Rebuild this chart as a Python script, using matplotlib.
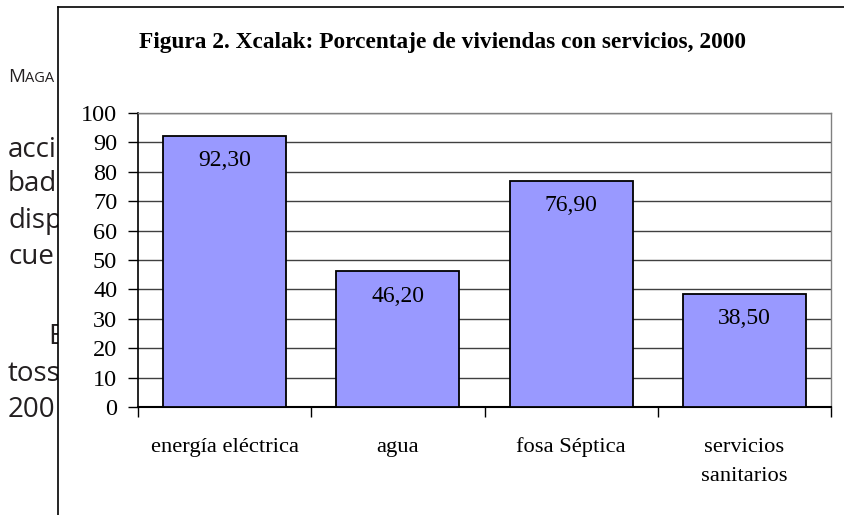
import matplotlib.pyplot as plt
from matplotlib.patches import Rectangle
from matplotlib.lines import Line2D

# Datos de la figura
categorias = ["energía eléctrica", "agua", "fosa Séptica", "servicios\nsanitarios"]
porcentajes = [92.30, 46.20, 76.90, 38.50]
etiquetas = ["92,30", "46,20", "76,90", "38,50"]
y_ticks = list(range(0, 101, 10))
titulo = "Figura 2. Xcalak: Porcentaje de viviendas con servicios, 2000"

# Texto de la página que queda detrás del recuadro del gráfico
texto_fondo = ["acci", "bad", "disp", "cue", "E", "toss", "200"]

W, H = 844, 515
fig = plt.figure(figsize=(W / 100, H / 100), dpi=100)

def fx(x):
    return x / W

def fy(y):
    return 1 - y / H

serif = "Liberation Serif"
sans = "Open Sans"
gris_texto = "#231f20"

# encabezado de página en versalitas
fig.text(fx(8), fy(82), "M", fontsize=13.5, family=sans, color=gris_texto, zorder=1)
fig.text(fx(25), fy(82), "AGA", fontsize=10.5, family=sans, color=gris_texto, zorder=1)

# líneas del texto del párrafo
baselines = [157, 191, 228, 264, 344, 381, 417]
x_inicio = [8, 8, 8, 8, 48, 8, 8]
for t, x, y in zip(texto_fondo, x_inicio, baselines):
    fig.text(fx(x), fy(y), t, fontsize=20, family=sans, color=gris_texto,
             va="baseline", zorder=1)

# recuadro blanco del gráfico
fig.add_artist(Rectangle((fx(58), 0), 1 - fx(58), fy(7), transform=fig.transFigure,
                         facecolor="white", edgecolor="none", zorder=2))
fig.add_artist(Line2D([fx(58), fx(58)], [0, fy(7)], color="black", lw=1.2, zorder=2.5))
fig.add_artist(Line2D([fx(58), 1], [fy(7), fy(7)], color="black", lw=1.2, zorder=2.5))

fig.text(fx(443), fy(48), titulo, fontsize=16.8, family=serif, fontweight="bold",
         ha="center", va="baseline", zorder=4)

ax = fig.add_axes([fx(138), fy(407), fx(831) - fx(138), fy(113) - fy(407)])
ax.set_zorder(3)
ax.set_facecolor("white")

x = list(range(len(categorias)))
ax.bar(x, porcentajes, width=0.71, color="#9999ff", edgecolor="black", linewidth=1.3, zorder=3)
for i, (v, lbl) in enumerate(zip(porcentajes, etiquetas)):
    ax.annotate(lbl, (i, v), xytext=(0, -18), textcoords="offset points",
                ha="center", va="center", fontsize=17, family=serif, zorder=4)

ax.set_xlim(-0.5, len(categorias) - 0.5)
ax.set_ylim(0, 100)
ax.set_yticks(y_ticks)
ax.yaxis.grid(True, color="#404040", linewidth=1)
ax.set_axisbelow(True)

ax.set_xticks(x)
ax.set_xticklabels(categorias, fontsize=16.2, family=serif, linespacing=1.75)
ax.set_xticks([i - 0.5 for i in range(len(categorias) + 1)], minor=True)
ax.tick_params(axis="x", which="major", length=0, pad=22)
ax.tick_params(axis="x", which="minor", length=7, width=1, direction="out")
ax.tick_params(axis="y", length=7, width=1, direction="out", pad=8, labelsize=17.5)
for lab in ax.get_yticklabels():
    lab.set_family(serif)

ax.spines["left"].set_color("black")
ax.spines["left"].set_linewidth(1.2)
ax.spines["bottom"].set_color("black")
ax.spines["bottom"].set_linewidth(1.5)
for s in ["top", "right"]:
    ax.spines[s].set_color("#808080")
    ax.spines[s].set_linewidth(1)

fig.savefig("out.png", dpi=100)
